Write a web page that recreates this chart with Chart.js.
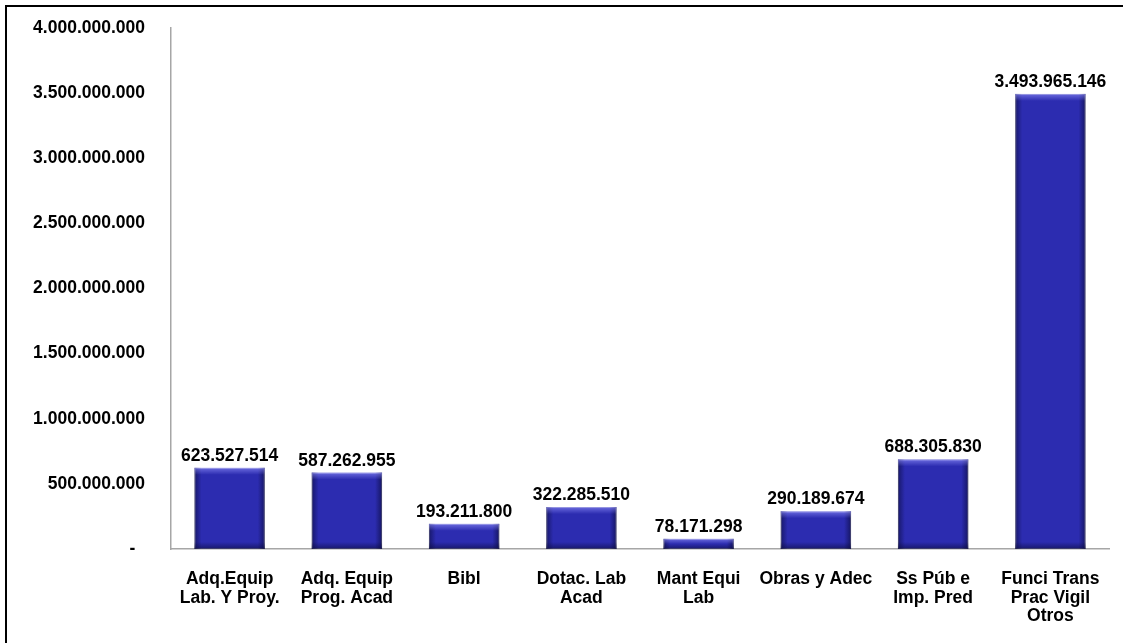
<!DOCTYPE html>
<html>
<head>
<meta charset="utf-8">
<script src="https://cdn.jsdelivr.net/npm/chart.js@4.4.0/dist/chart.umd.min.js"></script>
<style>
    html, body { margin: 0; padding: 0; background: #fff; }
    #wrap { position: relative; width: 1123px; height: 643px; }
    #frame {
        position: absolute; left: 5px; top: 5px; right: 0; bottom: 0;
        border-top: 2px solid #000; border-left: 2px solid #000;
        pointer-events: none;
    }
</style>
</head>
<body>
<div id="wrap">
    <canvas id="chart" width="1123" height="643"></canvas>
    <div id="frame"></div>
</div>
<script>
const categories = [
    ['Adq.Equip', 'Lab. Y Proy.'],
    ['Adq. Equip', 'Prog. Acad'],
    ['Bibl'],
    ['Dotac. Lab', 'Acad'],
    ['Mant Equi', 'Lab'],
    ['Obras y Adec'],
    ['Ss Púb e', 'Imp. Pred'],
    ['Funci Trans', 'Prac Vigil', 'Otros']
];
const amounts = [623527514, 587262955, 193211800, 322285510, 78171298, 290189674, 688305830, 3493965146];
const yMax = 4000000000;
const yStep = 500000000;

const fontFamily = '"Liberation Sans", Arial, sans-serif';
Chart.defaults.font.family = fontFamily;
Chart.defaults.color = '#000';

function fmt(v) {
    return String(v).replace(/\B(?=(\d{3})+(?!\d))/g, '.');
}

function edgeGradient(ctx, x0, y0, x1, y1, from, to) {
    const g = ctx.createLinearGradient(x0, y0, x1, y1);
    g.addColorStop(0, from);
    g.addColorStop(1, to);
    return g;
}

// bevel look on each bar plus the value above it
const barDecor = {
    id: 'barDecor',
    afterDatasetsDraw(chart) {
        const ctx = chart.ctx;
        const meta = chart.getDatasetMeta(0);
        const e = 7;
        ctx.save();
        meta.data.forEach((bar, i) => {
            const left = bar.x - bar.width / 2;
            const right = bar.x + bar.width / 2;
            const top = bar.y;
            const bottom = bar.base;
            const h = bottom - top;
            const s = Math.min(e, h / 2);

            ctx.fillStyle = edgeGradient(ctx, left, 0, left + e, 0, 'rgba(10,10,60,0.6)', 'rgba(10,10,60,0)');
            ctx.fillRect(left, top, e, h);
            ctx.fillStyle = edgeGradient(ctx, right - e, 0, right, 0, 'rgba(10,10,60,0)', 'rgba(10,10,60,0.65)');
            ctx.fillRect(right - e, top, e, h);
            ctx.fillStyle = edgeGradient(ctx, 0, top, 0, top + s, 'rgba(150,150,255,0.6)', 'rgba(150,150,255,0)');
            ctx.fillRect(left, top, bar.width, s);
            ctx.fillStyle = edgeGradient(ctx, 0, bottom - s, 0, bottom, 'rgba(10,10,60,0)', 'rgba(10,10,60,0.6)');
            ctx.fillRect(left, bottom - s, bar.width, s);

            ctx.font = 'bold 17.5px ' + fontFamily;
            ctx.fillStyle = '#000';
            ctx.textAlign = 'center';
            ctx.textBaseline = 'alphabetic';
            ctx.fillText(fmt(amounts[i]), bar.x, top - 7);
        });
        ctx.restore();
    }
};

new Chart(document.getElementById('chart'), {
    type: 'bar',
    data: {
        labels: categories,
        datasets: [{
            data: amounts,
            backgroundColor: '#2c2cb0',
            borderColor: 'rgba(120,120,170,0.8)',
            borderWidth: 1,
            borderSkipped: false,
            barPercentage: 0.6,
            categoryPercentage: 1
        }]
    },
    options: {
        responsive: false,
        animation: false,
        layout: { padding: { top: 28, right: 14, bottom: 0, left: 0 } },
        plugins: {
            legend: { display: false },
            tooltip: { enabled: false }
        },
        scales: {
            x: {
                grid: { display: false, drawTicks: false },
                border: { display: true, color: '#a6a6a6', width: 1.5 },
                ticks: {
                    font: { size: 17.5, weight: 'bold', lineHeight: 1.06 },
                    color: '#000',
                    padding: 21,
                    maxRotation: 0,
                    autoSkip: false
                },
                afterFit: scale => { scale.height = 94; }
            },
            y: {
                min: 0,
                max: yMax,
                grid: { display: false, drawTicks: false },
                border: { display: true, color: '#a6a6a6', width: 1.5 },
                ticks: {
                    stepSize: yStep,
                    font: { size: 17.5, weight: 'bold' },
                    color: '#000',
                    padding: 26,
                    callback: v => v === 0 ? '-  ' : fmt(v)
                },
                afterFit: scale => {
                    scale.width = 171;
                    scale.paddingTop = 0;
                    scale.paddingBottom = 0;
                }
            }
        }
    },
    plugins: [barDecor]
});
</script>
</body>
</html>
